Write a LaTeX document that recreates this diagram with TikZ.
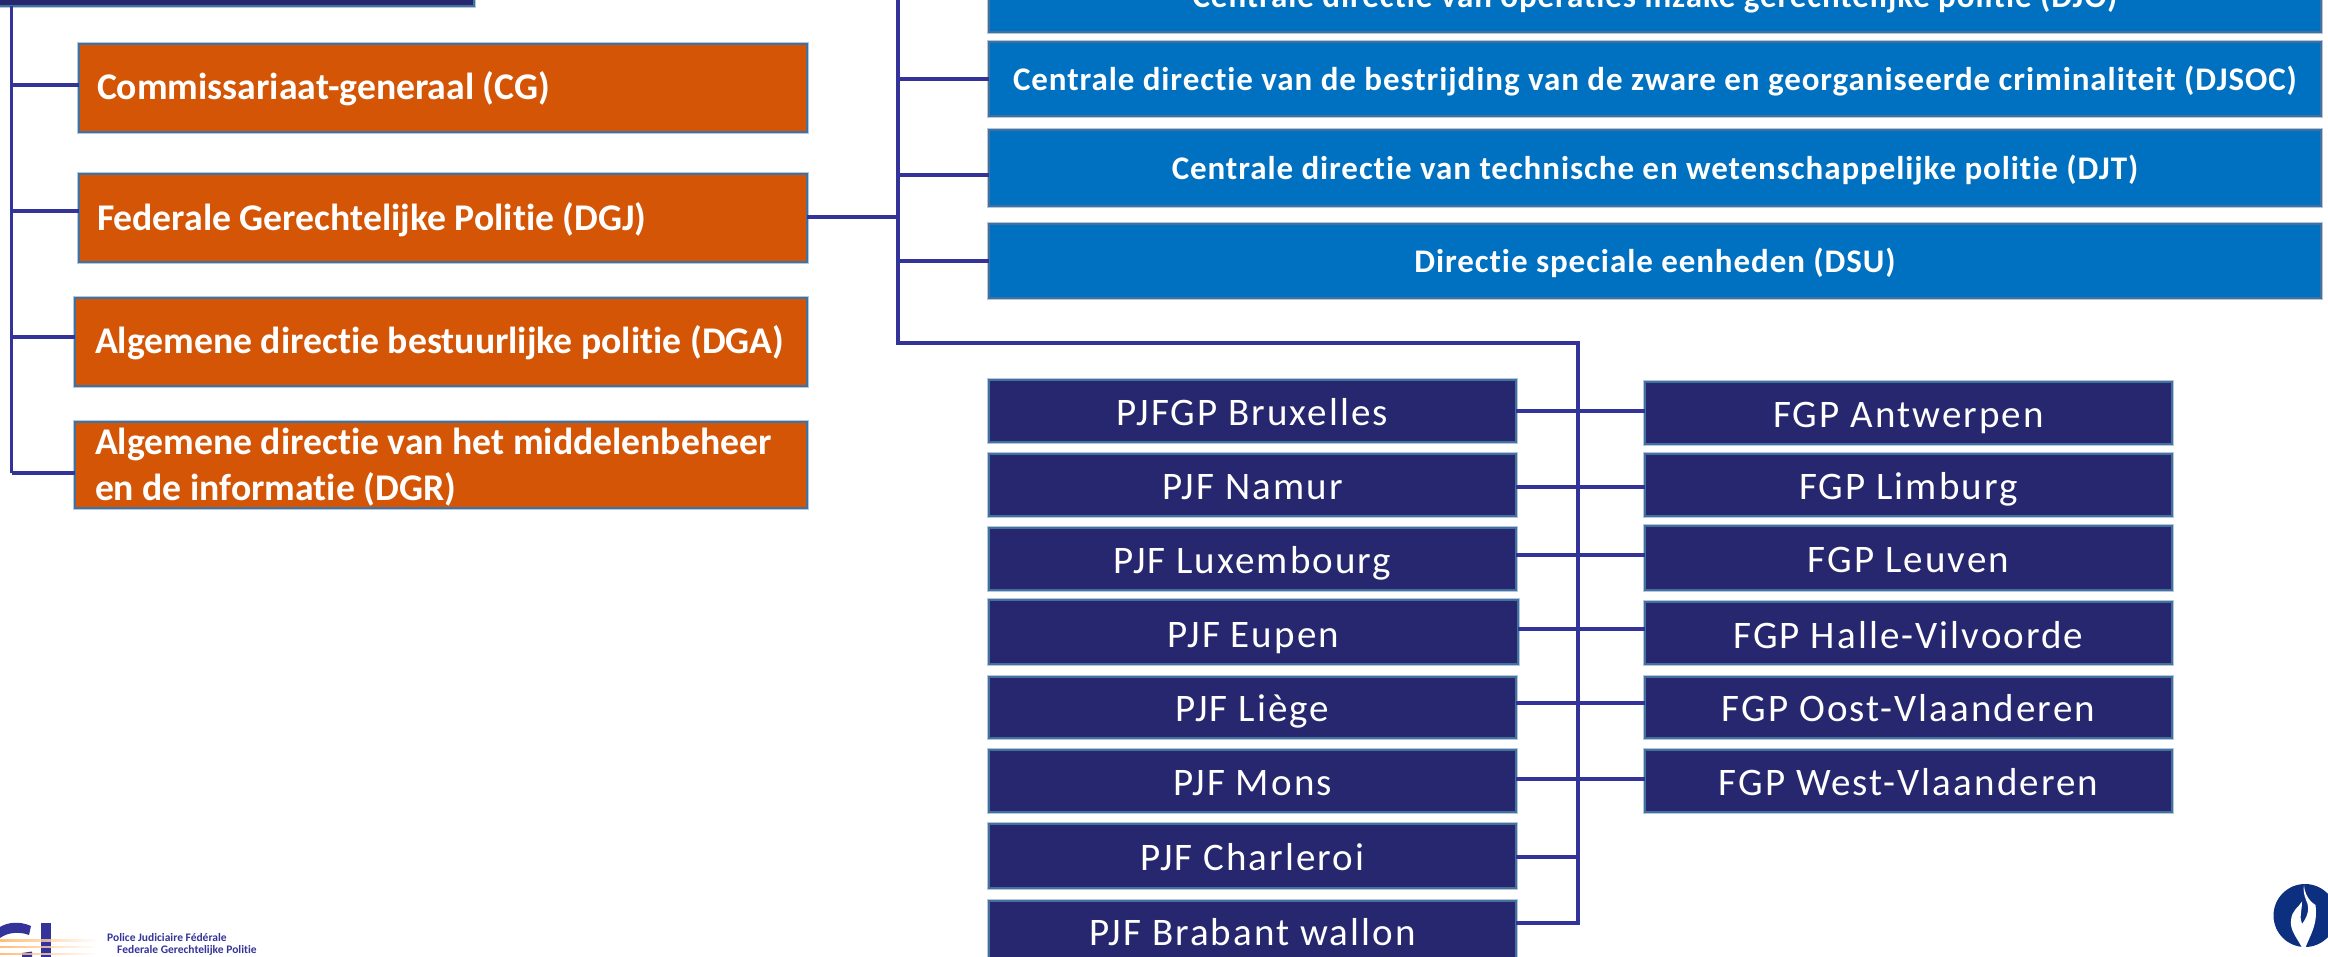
\documentclass[tikz,border=0pt]{standalone}
\usepackage{fontspec}
\setmainfont[Ligatures=CommonOff]{Carlito}
\newfontfamily\orangefont[Ligatures=CommonOff]{Carlito}
\newfontfamily\bluefont[LetterSpace=2.8,Ligatures=CommonOff]{Carlito}
\newfontfamily\navyfont[LetterSpace=5.3,Ligatures=CommonOff]{Carlito}
\definecolor{linkblue}{HTML}{333399}
\definecolor{navyfill}{HTML}{27276F}
\definecolor{orangefill}{HTML}{D45505}
\definecolor{bluefill}{HTML}{0070C0}
\definecolor{edgeblue}{HTML}{41719C}
\definecolor{edgehalo}{HTML}{B4C7DC}
\definecolor{flamebg}{HTML}{0D2F80}
\tikzset{
  plainbox/.style={preaction={draw=edgehalo,line width=3.5pt},draw=edgeblue,line width=2pt,inner sep=0pt,outer sep=0pt,text=white},
  orangebox/.style={plainbox,fill=orangefill,align=flush left,text width=692pt,font=\orangefont\bfseries\fontsize{37.7}{46}\selectfont},
  bluebox/.style={plainbox,fill=bluefill,font=\bluefont\bfseries\fontsize{33}{36}\selectfont},
  navybox/.style={plainbox,fill=navyfill,font=\navyfont\fontsize{39}{40}\selectfont},
  link/.style={draw=linkblue,line width=3.5pt},
  logotext/.style={inner sep=0pt,text=linkblue,font=\bfseries\fontsize{11.5}{15}\selectfont}
}
% name, x1, y1, x2, y2, style, baseline offset, text
\newcommand\pbox[8]{\node[#6,minimum width={(#4-#2-2)*1pt},minimum height={(#5-#3-2)*1pt},text height={(20+#7)*1pt},text depth={(20-#7)*1pt}] (#1) at ({(#2+#4)/2},{(#3+#5)/2}) {#8};}
\begin{document}
\begin{tikzpicture}[x=1pt,y=-1pt]
\clip (0,0) rectangle (2328,957);
\useasboundingbox (0,0) rectangle (2328,957);
% top box
\pbox{top}{-20}{-60}{475}{7}{plainbox,fill=navyfill}{0}{}
% orange
\pbox{cg}{78}{43}{808}{133}{orangebox}{11.5}{Commissariaat-generaal (CG)}
\pbox{dgj}{78}{173}{808}{263}{orangebox}{13}{Federale Gerechtelijke Politie (DGJ)}
\pbox{dga}{74}{297}{808}{387}{orangebox}{11.5}{Algemene directie bestuurlijke politie (DGA)}
\pbox{dgr}{74}{421}{808}{509}{orangebox}{-11}{Algemene directie van het middelenbeheer\\en de informatie (DGR)}
% blue
\pbox{djo}{988}{-45}{2322}{33}{bluebox}{14}{Centrale directie van operaties inzake gerechtelijke politie (DJO)}
\pbox{djsoc}{988}{41}{2322}{117}{bluebox}{12}{Centrale directie van de bestrijding van de zware en georganiseerde criminaliteit (DJSOC)}
\pbox{djt}{988}{129}{2322}{207}{bluebox}{12}{Centrale directie van technische en wetenschappelijke politie (DJT)}
\pbox{dsu}{988}{223}{2322}{299}{bluebox}{11.5}{Directie speciale eenheden (DSU)}
% navy left
\pbox{bru}{988}{379}{1517}{443}{navybox}{14}{PJFGP Bruxelles}
\pbox{nam}{988}{453}{1517}{517}{navybox}{14}{PJF Namur}
\pbox{lux}{988}{527}{1517}{591}{navybox}{14}{PJF Luxembourg}
\pbox{eup}{988}{599}{1519}{665}{navybox}{15}{PJF Eupen}
\pbox{lie}{988}{676}{1517}{739}{navybox}{13.5}{PJF Liège}
\pbox{mon}{988}{749}{1517}{813}{navybox}{14}{PJF Mons}
\pbox{cha}{988}{823}{1517}{889}{navybox}{14}{PJF Charleroi}
\pbox{bra}{988}{900}{1517}{966}{navybox}{12}{PJF Brabant wallon}
% navy right
\pbox{ant}{1644}{381}{2173}{445}{navybox}{14}{FGP Antwerpen}
\pbox{lim}{1644}{453}{2173}{517}{navybox}{14}{FGP Limburg}
\pbox{leu}{1644}{525}{2173}{591}{navybox}{14}{FGP Leuven}
\pbox{hal}{1644}{601}{2173}{665}{navybox}{15}{FGP Halle-Vilvoorde}
\pbox{oos}{1644}{676}{2173}{739}{navybox}{13.5}{FGP Oost-Vlaanderen}
\pbox{wes}{1644}{749}{2173}{813}{navybox}{14}{FGP West-Vlaanderen}
% spines
\coordinate (s1) at (11.5,0);
\coordinate (s2) at (898,0);
\coordinate (s3) at (1578,0);
\draw[link] (s1 |- top.south) -- (s1 |- 0,473);
\foreach \n/\y in {cg/85,dgj/211,dga/337,dgr/473}{\draw[link] (s1 |- 0,\y) -- (\n.west |- 0,\y);}
\draw[link] (dgj.east |- 0,217) -- (s2 |- 0,217);
\draw[link] (s2 |- 0,-10) |- (s3 |- 0,343);
\foreach \n/\y in {djo/-5,djsoc/79,djt/175,dsu/261}{\draw[link] (s2 |- 0,\y) -- (\n.west |- 0,\y);}
\draw[link] (s3 |- 0,341.5) -- (s3 |- 0,925);
\foreach \a/\b/\y in {bru/ant/411,nam/lim/487,lux/leu/555,eup/hal/629,lie/oos/703,mon/wes/779}{\draw[link] (\a.east |- 0,\y) -- (\b.west |- 0,\y);}
\foreach \a/\y in {cha/857,bra/923}{\draw[link] (\a.east |- 0,\y) -- (s3 |- 0,\y);}
% logo left
\fill[linkblue] (0,927) .. controls (8,922) and (20,921) .. (31,926) -- (29,935) .. controls (20,931.5) and (8,932) .. (0,938) -- cycle;
\fill[linkblue] (22,953) -- (32,951.5) -- (32,957) -- (22,957) -- cycle;
\fill[linkblue] (41,923) rectangle (51,957);
\foreach \y in {940.7,947,954}{\shade[left color=orange!65!white,right color=white,fill opacity=0.8] (0,\y-0.8) rectangle (99,\y+0.8);}
\node[logotext,anchor=base west] (pjf) at (107,941) {Police Judiciaire Fédérale};
\node[logotext,anchor=base west] (fgp) at (117,953) {Federale Gerechtelijke Politie};
% police emblem
\fill[flamebg] (2305,915.5) circle (31.5);
\fill[white] (2304,885) .. controls (2305,900) and (2316,905) .. (2315.5,905)
  .. controls (2318,925) and (2310,935) .. (2305.5,947.5) -- (2302,947.5)
  .. controls (2295,935) and (2290,930) .. (2291,920) .. controls (2292,910) and (2298,908) .. (2302,901.5)
  .. controls (2302,910) and (2299,918) .. (2302,924) .. controls (2308,916) and (2310,908) .. (2306,900)
  .. controls (2304,895) and (2303,890) .. (2304,885) -- cycle;
\end{tikzpicture}
\end{document}
